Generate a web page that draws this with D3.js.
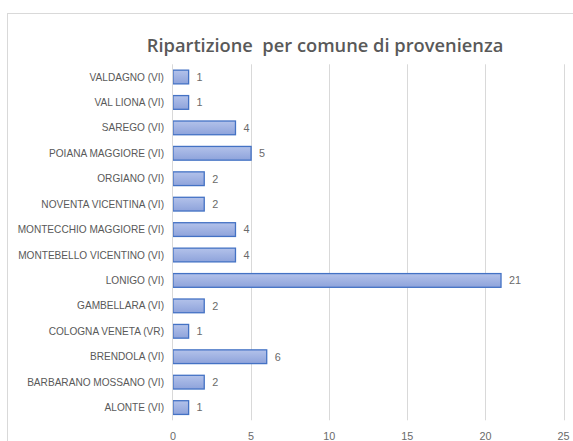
<!DOCTYPE html>
<html><head><meta charset="utf-8">
<script src="https://cdn.jsdelivr.net/npm/d3@7"></script>
<style>body{margin:0;background:#fff;}svg{display:block;}</style>
</head><body>
<script>
const title = "Ripartizione  per comune di provenienza";
const categories = ["VALDAGNO (VI)","VAL LIONA (VI)","SAREGO (VI)","POIANA MAGGIORE (VI)","ORGIANO (VI)","NOVENTA VICENTINA (VI)","MONTECCHIO MAGGIORE (VI)","MONTEBELLO VICENTINO (VI)","LONIGO (VI)","GAMBELLARA (VI)","COLOGNA VENETA (VR)","BRENDOLA (VI)","BARBARANO MOSSANO (VI)","ALONTE (VI)"];
const values = [1,1,4,5,2,2,4,4,21,2,1,6,2,1];
const xTicks = [0,5,10,15,20,25];

(function(){
const W = 573, H = 441;
const svg = d3.select("body").append("svg").attr("width", W).attr("height", H);
const defs = svg.append("defs");
const grad = defs.append("linearGradient").attr("id","bg").attr("x1",0).attr("y1",0).attr("x2",0).attr("y2",1);
grad.append("stop").attr("offset","0%").attr("stop-color","#b3c2ea");
grad.append("stop").attr("offset","100%").attr("stop-color","#8ea3db");

svg.append("rect").attr("x",7.5).attr("y",13.5).attr("width",700).attr("height",600)
  .attr("fill","#fff").attr("stroke","#d9d9d9").attr("stroke-width",1);

const pL = 173, pR = 563.5, pT = 64.3, pB = 420.3;
const x = d3.scaleLinear().domain([0,25]).range([pL,pR]);
const y = d3.scaleBand().domain(categories).range([pT,pB]).paddingInner(0.46).paddingOuter(0.23);

svg.append("text").attr("x",325).attr("y",52).attr("text-anchor","middle")
  .attr("font-family","'Open Sans', sans-serif").attr("font-weight","600").attr("font-size",18.3)
  .attr("fill","#595959").style("white-space","pre").text(title);

svg.append("g").selectAll("line").data(xTicks.slice(1)).join("line")
  .attr("x1",d=>Math.round(x(d))+0.5).attr("x2",d=>Math.round(x(d))+0.5)
  .attr("y1",pT).attr("y2",pB).attr("stroke","#d9d9d9").attr("stroke-width",1);

svg.append("g").selectAll("rect").data(values).join("rect")
  .attr("x",x(0)).attr("y",(d,i)=>y(categories[i]))
  .attr("width",d=>x(d)-x(0)).attr("height",y.bandwidth())
  .attr("fill","url(#bg)").attr("stroke","#4472c4").attr("stroke-width",1.3);

svg.append("line").attr("x1",pL-0.5).attr("x2",pL-0.5).attr("y1",pT).attr("y2",pB)
  .attr("stroke","#d9d9d9").attr("stroke-width",1);

const font = "'Liberation Sans', Arial, sans-serif";
svg.append("g").selectAll("text").data(categories).join("text")
  .attr("x",164).attr("y",d=>y(d)+y.bandwidth()/2).attr("dy","0.35em")
  .attr("text-anchor","end").attr("font-family",font).attr("font-size",10.1)
  .attr("fill","#595959").text(d=>d);

svg.append("g").selectAll("text").data(values).join("text")
  .attr("x",d=>x(d)+8).attr("y",(d,i)=>y(categories[i])+y.bandwidth()/2).attr("dy","0.35em")
  .attr("font-family",font).attr("font-size",10.8).attr("fill","#6a6a6a").text(d=>d);

svg.append("g").selectAll("text").data(xTicks).join("text")
  .attr("x",d=>x(d)).attr("y",436).attr("dy","0.35em").attr("text-anchor","middle")
  .attr("font-family",font).attr("font-size",10.8).attr("fill","#6a6a6a").text(d=>d);
})();
</script>
</body></html>
